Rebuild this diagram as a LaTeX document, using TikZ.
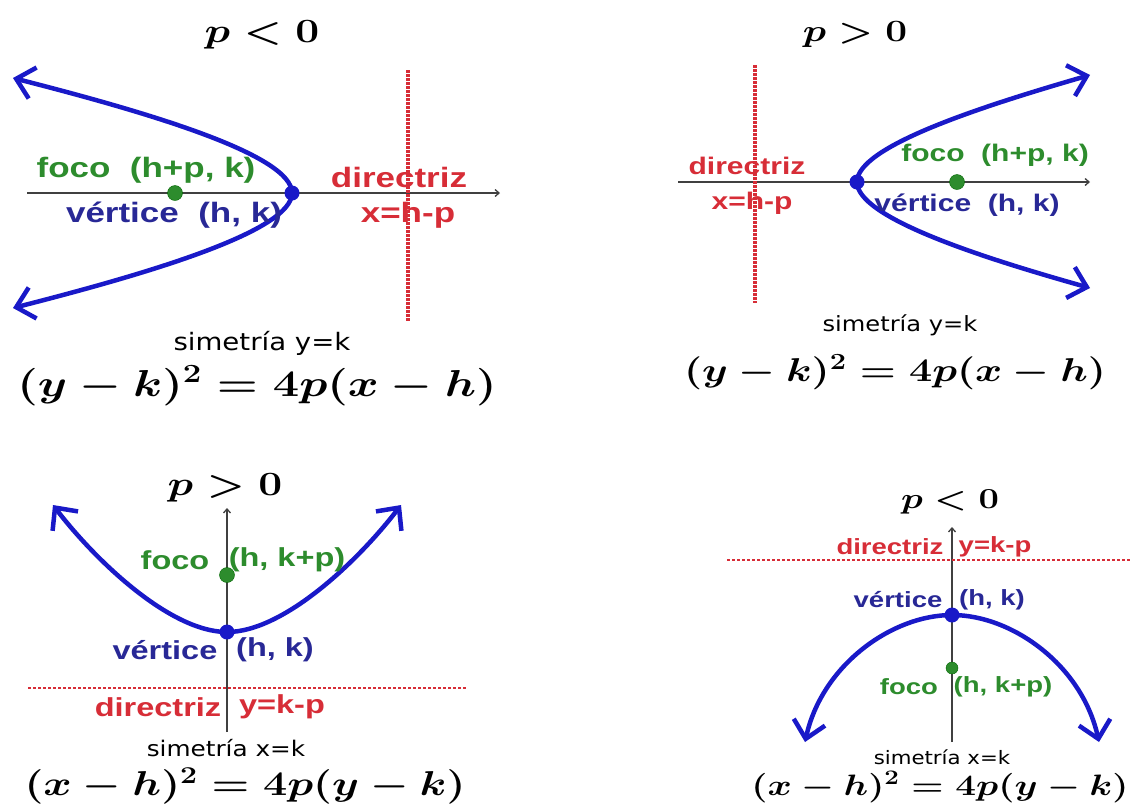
\documentclass[tikz,border=0pt]{standalone}
\usepackage{fix-cm}
\usepackage[no-math]{fontspec}
\newfontfamily\lblfont{Liberation Sans}
\newfontfamily\simfont{DejaVu Sans}
\usetikzlibrary{arrows.meta}

\definecolor{curveblue}{RGB}{25,25,200}
\definecolor{vblue}{RGB}{40,40,150}
\definecolor{fgreen}{RGB}{45,140,45}
\definecolor{dred}{RGB}{215,45,55}

\tikzset{
  par/.style={draw=curveblue, line width=4.5pt, line cap=round, line join=round,
    {Straight Barb[length=17pt,width=32pt]}-{Straight Barb[length=17pt,width=32pt]}},
  axis/.style={draw=black!75, line width=1.3pt, -{Straight Barb[length=4pt,width=7pt]}},
  dirline/.style={draw=dred, line width=3.5pt, dash pattern=on 2.5pt off 1.5pt},
  dirthin/.style={draw=dred, line width=2.5pt, dash pattern=on 3pt off 2pt},
  vdot/.style={circle, fill=curveblue, inner sep=0pt, minimum size=15pt},
  fdot/.style={circle, fill=fgreen, draw=green!40!black, inner sep=0pt, minimum size=#1},
  fdot/.default=15pt,
  lbl/.style={font=\lblfont\bfseries\fontsize{#1}{#1}\selectfont, xscale=1.25, inner sep=0pt},
  sim/.style={font=\simfont\fontsize{#1}{#1}\selectfont, xscale=1.15, inner sep=0pt},
  eqn/.style={font=\fontsize{#1}{#1}\selectfont\boldmath, xscale=1.25, inner sep=0pt},
}

\begin{document}
\begin{tikzpicture}[x=1pt, y=-1pt]
  \fill[white] (0,0) rectangle (1134,804);
  \useasboundingbox (0,0) rectangle (1134,804);

  % p<0, abre a la izquierda
  \node[eqn=34] (t1) at (262,35) {$p<0$};
  \coordinate (ax1a) at (27,193);
  \coordinate (ax1b) at (500,193);
  \draw[axis] (ax1a) -- (ax1b);
  \coordinate (V1) at (292,193);
  \coordinate (U1) at (13,78);
  \coordinate (W1) at (13,308);
  \draw[par] (U1) .. controls (150,113) and (292,155) .. (V1) .. controls (292,231) and (150,273) .. (W1);
  \coordinate (d1a) at (408,70);
  \coordinate (d1b) at (408,322);
  \draw[dirline] (d1a) -- (d1b);
  \node[vdot] (v1) at (V1) {};
  \node[fdot] (f1) at (175,193) {};
  \node[lbl=28, fgreen] (foco1) at (146,170) {foco\ \ (h+p, k)};
  \node[lbl=28, vblue] (vert1) at (174,215) {vértice\ \ (h, k)};
  \node[lbl=28, dred] (dir1) at (399,177) {directriz};
  \node[lbl=28, dred] (dx1) at (408,215) {x=h-p};
  \node[sim=24] (s1) at (262,343) {simetría y=k};
  \node[eqn=37.5] (e1) at (257,386) {$(y-k)^2=4p(x-h)$};

  % p>0, abre a la derecha
  \node[eqn=31] (t2) at (855,35) {$p>0$};
  \coordinate (ax2a) at (678,182);
  \coordinate (ax2b) at (1090,182);
  \draw[axis] (ax2a) -- (ax2b);
  \coordinate (V2) at (857,182);
  \coordinate (U2) at (1090,75);
  \coordinate (W2) at (1090,288);
  \draw[par] (U2) .. controls (976,108) and (857,147) .. (V2) .. controls (857,217) and (976,256) .. (W2);
  \coordinate (d2a) at (755,65);
  \coordinate (d2b) at (755,303);
  \draw[dirline] (d2a) -- (d2b);
  \node[vdot] (v2) at (V2) {};
  \node[fdot] (f2) at (957,182) {};
  \node[lbl=24, fgreen] (foco2) at (995,155) {foco\ \ (h+p, k)};
  \node[lbl=24, vblue] (vert2) at (967,205) {vértice\ \ (h, k)};
  \node[lbl=24, dred] (dir2) at (747,166) {directriz};
  \node[lbl=24, dred] (dx2) at (752,203) {x=h-p};
  \node[sim=21] (s2) at (900,325) {simetría y=k};
  \node[eqn=33] (e2) at (895,372) {$(y-k)^2=4p(x-h)$};

  % p>0, abre hacia arriba
  \node[eqn=34] (t3) at (225,488) {$p>0$};
  \coordinate (ax3a) at (227,732);
  \coordinate (ax3b) at (227,508);
  \draw[axis] (ax3a) -- (ax3b);
  \coordinate (V3) at (227,632);
  \coordinate (U3) at (53,505);
  \coordinate (W3) at (401,505);
  \draw[par] (U3) .. controls (95,560) and (170,632) .. (V3) .. controls (284,632) and (359,560) .. (W3);
  \coordinate (d3a) at (28,688);
  \coordinate (d3b) at (467,688);
  \draw[dirthin] (d3a) -- (d3b);
  \node[vdot] (v3) at (V3) {};
  \node[fdot] (f3) at (227,575) {};
  \node[lbl=26, fgreen] (foco3) at (175,560) {foco};
  \node[lbl=26, fgreen] (fc3) at (287,560) {(h, k+p)};
  \node[lbl=26, vblue] (vert3) at (165,650) {vértice};
  \node[lbl=26, vblue] (vc3) at (275,650) {(h, k)};
  \node[lbl=26, dred] (dir3) at (158,707) {directriz};
  \node[lbl=26, dred] (dy3) at (282,707) {y=k-p};
  \node[sim=21.5] (s3) at (226,748) {simetría x=k};
  \node[eqn=34.5] (e3) at (245,786) {$(x-h)^2=4p(y-k)$};

  % p<0, abre hacia abajo
  \node[eqn=29] (t4) at (950,502) {$p<0$};
  \coordinate (ax4a) at (952,742);
  \coordinate (ax4b) at (952,527);
  \draw[axis] (ax4a) -- (ax4b);
  \coordinate (d4a) at (727,560);
  \coordinate (d4b) at (1130,560);
  \draw[dirthin] (d4a) -- (d4b);
  \coordinate (V4) at (952,615);
  \coordinate (U4) at (805,742);
  \coordinate (W4) at (1099,742);
  \draw[par] (U4) .. controls (822,665) and (892,615) .. (V4) .. controls (1012,615) and (1082,665) .. (W4);
  \node[vdot] (v4) at (V4) {};
  \node[fdot=12pt] (f4) at (952,668) {};
  \node[lbl=22, dred] (dir4) at (890,547) {directriz};
  \node[lbl=22, dred] (dy4) at (995,547) {y=k-p};
  \node[lbl=22, vblue] (vert4) at (898,600) {vértice};
  \node[lbl=22, vblue] (vc4) at (992,600) {(h, k)};
  \node[lbl=22, fgreen] (foco4) at (909,687) {foco};
  \node[lbl=22, fgreen] (fc4) at (1003,687) {(h, k+p)};
  \node[sim=18.5] (s4) at (942,757) {simetría x=k};
  \node[eqn=29.5] (e4) at (940,787) {$(x-h)^2=4p(y-k)$};
\end{tikzpicture}
\end{document}
